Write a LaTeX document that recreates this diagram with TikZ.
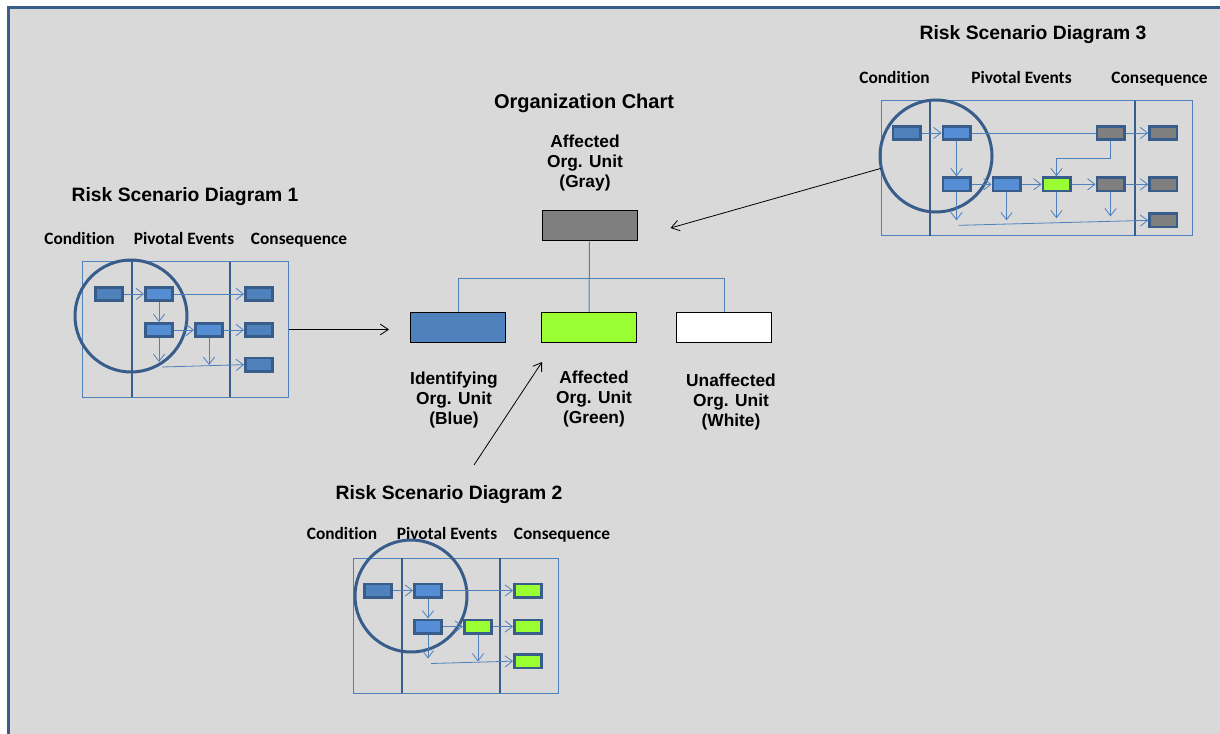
\documentclass[tikz,border=0pt]{standalone}
\usepackage{fontspec}
\setmainfont{Liberation Sans}
\newfontfamily\calibrifont[Ligatures=NoCommon]{Carlito}
\usepackage{tikz}
\usetikzlibrary{positioning, arrows.meta, calc}
\definecolor{panel}{HTML}{D9D9D9}
\definecolor{edge}{HTML}{385D8A}
\definecolor{unitblue}{HTML}{4F81BD}
\definecolor{stepblue}{HTML}{558ED5}
\definecolor{lime}{HTML}{99FF33}
\definecolor{unitgray}{HTML}{7F7F7F}
\tikzset{
  mini/.style={draw=edge, line width=2pt, minimum width=20.5pt, minimum height=10pt,
               inner sep=0pt},
  cnd/.style={mini, fill=unitblue},
  piv/.style={mini, fill=stepblue},
  grn/.style={mini, fill=lime},
  gry/.style={mini, fill=unitgray},
  lane/.style={draw=unitblue, line width=0.75pt, minimum width=154.5pt,
               minimum height=101.25pt, inner sep=0pt},
  divider/.style={draw=edge, line width=1.5pt},
  ring/.style={draw=edge, line width=2.25pt},
  flow/.style={-{Straight Barb[length=5.5pt,width=8.5pt]}, draw=unitblue, line width=0.6pt},
  ar/.style={-{Straight Barb[length=6pt,width=8pt]}, line width=0.6pt},
  tree/.style={draw=unitblue, line width=0.75pt},
  unit/.style={draw, line width=0.75pt, minimum width=71.25pt, minimum height=22.5pt,
               inner sep=0pt},
  head/.style={font=\bfseries\fontsize{14.5}{17}\selectfont, text height=10.5pt,
               text depth=3pt, yshift=-2pt},
  col/.style={font=\calibrifont\bfseries\fontsize{13}{15}\selectfont, text height=9pt,
              text depth=3pt, yshift=-2.25pt},
  lbl/.style={align=center, font=\bfseries\fontsize{13}{15}\selectfont},
}

\begin{document}
\begin{tikzpicture}[x=0.75pt, y=-0.75pt, node distance=15pt and 15pt]
  \useasboundingbox (0,0) rectangle (1220,734);
  \fill[panel] (8,7) rectangle (1220,734);
  \draw[edge, line width=2.25pt] (8.5,734) -- (8.5,7.5) -- (1220,7.5);

  % organization chart
  \node[head, font=\bfseries\fontsize{15}{17}\selectfont] (orgtitle) at (584,101) {Organization Chart};
  \node[lbl] (graylbl) at (585,163) {Affected\\Org. Unit\\(Gray)};
  \node[unit, fill=unitgray] (gray) at (589.5,226) {};
  \node[unit, fill=unitblue] (blue) at (458,327.5) {};
  \node[unit, fill=lime] (green) at (589,327.5) {};
  \node[unit, fill=white] (white) at (724,327.5) {};
  \node[lbl] (bluelbl) at (454,400) {Identifying\\Org. Unit\\(Blue)};
  \node[lbl] (greenlbl) at (594,399) {Affected\\Org. Unit\\(Green)};
  \node[lbl] (whitelbl) at (731,402) {Unaffected\\Org. Unit\\(White)};

  \coordinate (bar) at ($(gray.south)!0.53!(green.north)$);
  \draw[tree] (gray.south) -- (green.north);
  \draw[tree] (blue.north) |- (bar) -| (white.north);

  % risk scenario diagram 1
  \node[head] (d1title) at (185,194) {Risk Scenario Diagram 1};
  \node[col] (d1cond) at (79.5,238) {Condition};
  \node[col] (d1piv) at (184,238) {Pivotal Events};
  \node[col] (d1cons) at (299,238) {Consequence};
  \node[lane] (d1frame) at (185,329.5) {};
  \draw[divider] (132,262) -- (132,397);
  \draw[divider] (230,262) -- (230,397);
  \draw[ring] (131,316) circle (42pt);
  \node[cnd] (d1c) at (109,294) {};
  \node[piv, right=of d1c] (d1p1) {};
  \node[cnd, right=52.5pt of d1p1] (d1q1) {};
  \node[piv, below=of d1p1] (d1p2) {};
  \node[piv, right=of d1p2] (d1p3) {};
  \node[cnd, right=of d1p3] (d1q2) {};
  \node[cnd, below=14pt of d1q2] (d1q3) {};
  \coordinate (d1e2) at ($(d1p2.south)+(0,24)$);
  \coordinate (d1e3) at ($(d1p3.south)+(0,27)$);
  \coordinate (d1b) at ($(d1p2.south)+(3,29)$);

  \draw[flow] (d1c) -- (d1p1);
  \draw[flow] (d1p1) -- (d1q1);
  \draw[flow] (d1p1) -- (d1p2);
  \draw[flow] (d1p2) -- (d1p3);
  \draw[flow] (d1p3) -- (d1q2);
  \draw[flow] (d1p2) -- (d1e2);
  \draw[flow] (d1p3) -- (d1e3);
  \draw[flow] (d1b) -- (d1q3.west);

  % risk scenario diagram 2
  \node[head] (d2title) at (449,492) {Risk Scenario Diagram 2};
  \node[col] (d2cond) at (342,532) {Condition};
  \node[col] (d2piv) at (447,532) {Pivotal Events};
  \node[col] (d2cons) at (562,532) {Consequence};
  \node[lane, minimum width=153.75pt] (d2frame) at (455.5,625.5) {};
  \draw[divider] (402,558) -- (402,693);
  \draw[divider] (500,558) -- (500,693);
  \draw[ring] (411,596) circle (42pt);
  \node[cnd] (d2c) at (378,590.5) {};
  \node[piv, right=of d2c] (d2p1) {};
  \node[grn, right=52.5pt of d2p1] (d2q1) {};
  \node[piv, below=of d2p1] (d2p2) {};
  \node[grn, right=of d2p2] (d2p3) {};
  \node[grn, right=of d2p3] (d2q2) {};
  \node[grn, below=14pt of d2q2] (d2q3) {};
  \coordinate (d2e2) at ($(d2p2.south)+(0,24)$);
  \coordinate (d2e3) at ($(d2p3.south)+(0,27)$);
  \coordinate (d2b) at ($(d2p2.south)+(3,29)$);

  \draw[flow] (d2c) -- (d2p1);
  \draw[flow] (d2p1) -- (d2q1);
  \draw[flow] (d2p1) -- (d2p2);
  \draw[flow] (d2p2) -- (d2p3);
  \draw[flow] (d2p3) -- (d2q2);
  \draw[flow] (d2p2) -- (d2e2);
  \draw[flow] (d2p3) -- (d2e3);
  \draw[flow] (d2b) -- (d2q3.west);

  % risk scenario diagram 3
  \node[head] (d3title) at (1033,32) {Risk Scenario Diagram 3};
  \node[col] (d3cond) at (894.5,77) {Condition};
  \node[col] (d3piv) at (1021.5,77) {Pivotal Events};
  \node[col] (d3cons) at (1159.5,77) {Consequence};
  \node[lane, minimum width=233.25pt] (d3frame) at (1036.5,168.5) {};
  \draw[divider] (930,101) -- (930,236);
  \draw[divider] (1135,101) -- (1135,236);
  \draw[ring] (936,156) circle (42pt);
  \node[cnd] (d3c) at (906.5,133) {};
  \node[piv, right=of d3c] (d3p1) {};
  \node[gry, right=93pt of d3p1] (d3g1) {};
  \node[gry, right=17pt of d3g1] (d3q1) {};
  \node[piv, below=26.5pt of d3p1] (d3p2) {};
  \node[piv, right=of d3p2] (d3p3) {};
  \node[grn, right=of d3p3] (d3p4) {};
  \node[gry, right=18pt of d3p4] (d3g2) {};
  \node[gry, right=17pt of d3g2] (d3q2) {};
  \node[gry, below=of d3q2] (d3q3) {};
  \coordinate (d3k) at ($(d3g1.south)!0.5!(d3g2.north)$);
  \coordinate (d3b) at ($(d3p2.south)+(2,33)$);

  \draw[flow] (d3c) -- (d3p1);
  \draw[tree, line width=0.6pt] (d3p1) -- (d3g1);
  \draw[flow] (d3g1) -- (d3q1);
  \draw[flow] (d3p1) -- (d3p2);
  \draw[flow] (d3g1.south) -- (d3k) -| (d3p4.north);
  \draw[flow] (d3p2) -- (d3p3);
  \draw[flow] (d3p3) -- (d3p4);
  \draw[flow] (d3p4) -- (d3g2);
  \draw[flow] (d3g2) -- (d3q2);
  \foreach \n/\d in {p2/28, p3/28, p4/26, g2/24} {
    \coordinate (d3\n x) at ($(d3\n.south)+(0,\d)$);
    \draw[flow] (d3\n) -- (d3\n x);
  }
  \draw[flow] (d3b) -- (d3q3.west);

  % links to the chart
  \coordinate (a1e) at ($(blue.west)+(-21,0)$);
  \coordinate (a2s) at (474,465);
  \coordinate (a2e) at ($(green.south west)+(1,19)$);
  \coordinate (a3e) at ($(gray.east)+(33,2)$);
  \draw[ar] (d1frame.east) -- (d1frame.east -| a1e);
  \draw[ar] (a2s) -- (a2e);
  \draw[ar] (d3frame.west) -- (a3e);
\end{tikzpicture}
\end{document}
